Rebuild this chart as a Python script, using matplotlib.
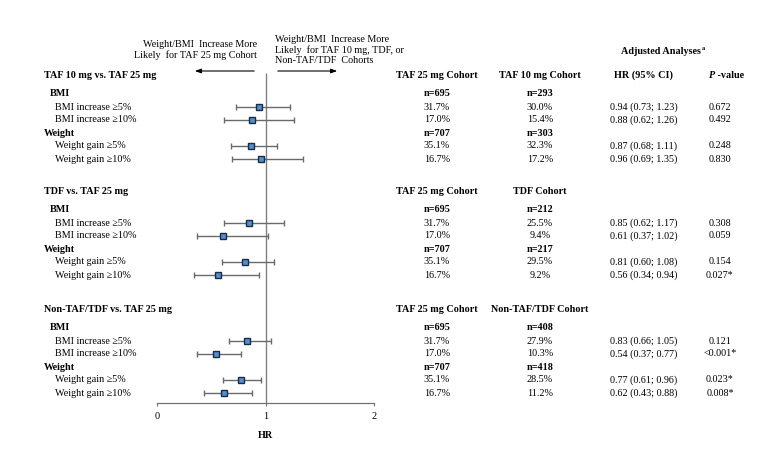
import matplotlib.pyplot as plt

plt.rcParams['font.family'] = ['Liberation Serif', 'DejaVu Serif']
plt.rcParams['font.size'] = 7.3

# ---- data ----
sections = ["TAF 10 mg vs. TAF 25 mg", "TDF vs. TAF 25 mg", "Non-TAF/TDF vs. TAF 25 mg"]
ref_cohort = "TAF 25 mg Cohort"
cmp_cohorts = ["TAF 10 mg Cohort", "TDF Cohort", "Non-TAF/TDF Cohort"]
outcomes = ["BMI increase ≥5%", "BMI increase ≥10%", "Weight gain ≥5%", "Weight gain ≥10%"]

n_ref_bmi = [695, 695, 695]
n_ref_weight = [707, 707, 707]
n_cmp_bmi = [293, 212, 408]
n_cmp_weight = [303, 217, 418]

pct_ref = [
    ["31.7%", "17.0%", "35.1%", "16.7%"],
    ["31.7%", "17.0%", "35.1%", "16.7%"],
    ["31.7%", "17.0%", "35.1%", "16.7%"],
]
pct_cmp = [
    ["30.0%", "15.4%", "32.3%", "17.2%"],
    ["25.5%", "9.4%", "29.5%", "9.2%"],
    ["27.9%", "10.3%", "28.5%", "11.2%"],
]
hr = [
    [0.94, 0.88, 0.87, 0.96],
    [0.85, 0.61, 0.81, 0.56],
    [0.83, 0.54, 0.77, 0.62],
]
hr_lo = [
    [0.73, 0.62, 0.68, 0.69],
    [0.62, 0.37, 0.60, 0.34],
    [0.66, 0.37, 0.61, 0.43],
]
hr_hi = [
    [1.23, 1.26, 1.11, 1.35],
    [1.17, 1.02, 1.08, 0.94],
    [1.05, 0.77, 0.96, 0.88],
]
p_values = [
    ["0.672", "0.492", "0.248", "0.830"],
    ["0.308", "0.059", "0.154", "0.027*"],
    ["0.121", "<0.001*", "0.023*", "0.008*"],
]

# ---- layout (pixel rows from top) ----
W, H = 784, 470
section_top = [75, 191, 309]
bmi_off, weight_off = 19, 58.5
item_off = [32, 45, 71, 84]
col_ref, col_cmp, col_hr, col_p = 437, 540, 644, 720

fig = plt.figure(figsize=(W / 100, H / 100), dpi=100)
bg = fig.add_axes([0, 0, 1, 1])
bg.set_xlim(0, W)
bg.set_ylim(H, 0)
bg.axis('off')

ax = fig.add_axes([157 / W, 0, 217 / W, 1])
ax.set_xlim(0, 2)
ax.set_ylim(H, 0)
ax.patch.set_alpha(0)
for s in ['top', 'left', 'right']:
    ax.spines[s].set_visible(False)
ax.spines['bottom'].set_position(('data', 403))
ax.spines['bottom'].set_color('#707070')
ax.spines['bottom'].set_linewidth(0.9)
ax.set_yticks([])
ax.set_xticks([0, 1, 2])
ax.tick_params(axis='x', direction='out', length=2.5, color='#707070', pad=4, labelsize=7.5)
ax.text(1, 436, "HR", ha='center', va='center', fontweight='bold')

ax.vlines(1, 73, 403, color='#808080', lw=1)

# arrows and direction labels
bg.text(257, 50, "Weight/BMI  Increase More\nLikely  for TAF 25 mg Cohort",
        ha='right', va='center', multialignment='right', linespacing=1.2)
bg.text(275, 50, "Weight/BMI  Increase More\nLikely  for TAF 10 mg, TDF, or\nNon-TAF/TDF  Cohorts",
        ha='left', va='center', multialignment='left', linespacing=1.2)
arrow = dict(arrowstyle='-|>,head_length=0.5,head_width=0.18', color='black', lw=0.8)
bg.annotate("", xy=(192, 71), xytext=(257, 71), arrowprops=arrow)
bg.annotate("", xy=(340, 71), xytext=(275, 71), arrowprops=arrow)

bg.text(701, 52, "Adjusted Analyses", ha='right', va='center', fontweight='bold')
bg.text(702, 48, "a", ha='left', va='center', fontweight='bold', fontsize=4.5)

for i, sec in enumerate(sections):
    y0 = section_top[i]
    bg.text(44, y0, sec, ha='left', va='center', fontweight='bold')
    bg.text(col_ref, y0, ref_cohort, ha='center', va='center', fontweight='bold')
    bg.text(col_cmp, y0, cmp_cohorts[i], ha='center', va='center', fontweight='bold')
    if i == 0:
        bg.text(col_hr, y0, "HR (95% CI)", ha='center', va='center', fontweight='bold')
        bg.text(col_p - 5, y0, "P", ha='right', va='center', fontweight='bold', fontstyle='italic')
        bg.text(col_p - 5, y0, " -value", ha='left', va='center', fontweight='bold')

    bg.text(50, y0 + bmi_off, "BMI", ha='left', va='center', fontweight='bold')
    bg.text(44, y0 + weight_off, "Weight", ha='left', va='center', fontweight='bold')
    bg.text(col_ref, y0 + bmi_off, f"n={n_ref_bmi[i]}", ha='center', va='center', fontweight='bold')
    bg.text(col_cmp, y0 + bmi_off, f"n={n_cmp_bmi[i]}", ha='center', va='center', fontweight='bold')
    bg.text(col_ref, y0 + weight_off, f"n={n_ref_weight[i]}", ha='center', va='center', fontweight='bold')
    bg.text(col_cmp, y0 + weight_off, f"n={n_cmp_weight[i]}", ha='center', va='center', fontweight='bold')

    for j, name in enumerate(outcomes):
        y = y0 + item_off[j]
        bg.text(55, y, name, ha='left', va='center')
        bg.text(col_ref, y, pct_ref[i][j], ha='center', va='center')
        bg.text(col_cmp, y, pct_cmp[i][j], ha='center', va='center')
        bg.text(col_hr, y, f"{hr[i][j]:.2f} ({hr_lo[i][j]:.2f}; {hr_hi[i][j]:.2f})", ha='center', va='center')
        bg.text(col_p, y, p_values[i][j], ha='center', va='center')

        ax.errorbar(hr[i][j], y,
                    xerr=[[hr[i][j] - hr_lo[i][j]], [hr_hi[i][j] - hr[i][j]]],
                    fmt='s', color='#5b5b5b', ecolor='#6a6a6a', elinewidth=1, capsize=2,
                    capthick=0.8, markersize=5, markerfacecolor='#4f8fd6',
                    markeredgecolor='#1c2c40', markeredgewidth=1, zorder=3)

fig.savefig("out.png", dpi=100)
